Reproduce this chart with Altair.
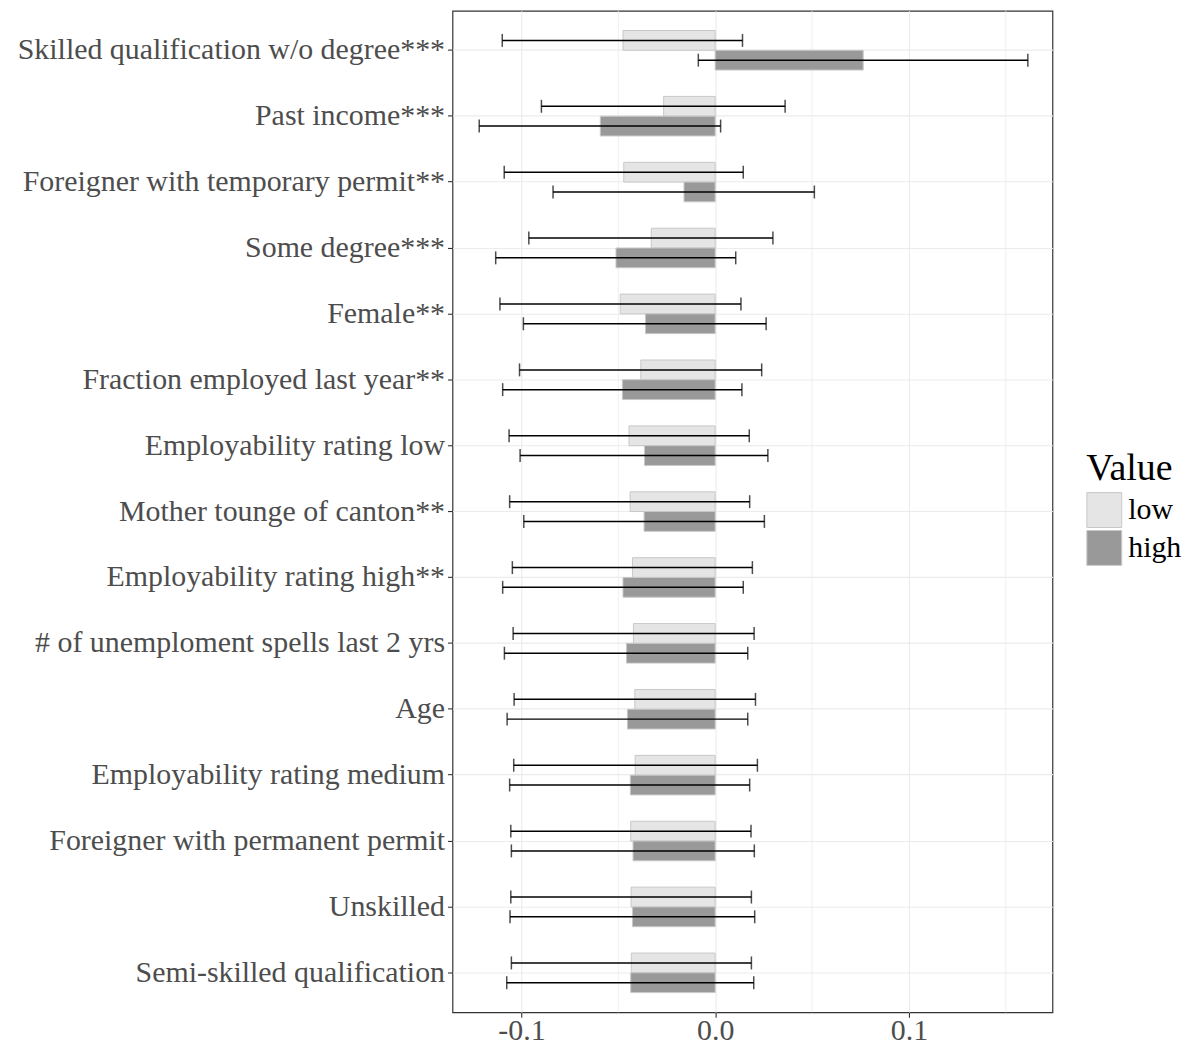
import altair as alt
import pandas as pd

categories = [
    "Skilled qualification w/o degree***",
    "Past income***",
    "Foreigner with temporary permit**",
    "Some degree***",
    "Female**",
    "Fraction employed last year**",
    "Employability rating low",
    "Mother tounge of canton**",
    "Employability rating high**",
    "# of unemploment spells last 2 yrs",
    "Age",
    "Employability rating medium",
    "Foreigner with permanent permit",
    "Unskilled",
    "Semi-skilled qualification",
]
groups = ["low", "high"]

low_value = [-0.0476, -0.0266, -0.0472, -0.0330, -0.0490, -0.0384, -0.0445, -0.0439,
             -0.0427, -0.0422, -0.0415, -0.0413, -0.0436, -0.0434, -0.0433]
low_lower = [-0.1099, -0.0897, -0.1089, -0.0962, -0.1111, -0.1010, -0.1064, -0.1061,
             -0.1047, -0.1043, -0.1038, -0.1040, -0.1055, -0.1055, -0.1052]
low_upper = [0.0141, 0.0361, 0.0145, 0.0298, 0.0133, 0.0240, 0.0176, 0.0178,
             0.0192, 0.0201, 0.0208, 0.0218, 0.0185, 0.0187, 0.0187]
high_value = [0.0764, -0.0593, -0.0161, -0.0512, -0.0360, -0.0479, -0.0365, -0.0367,
              -0.0476, -0.0458, -0.0453, -0.0438, -0.0424, -0.0427, -0.0436]
high_lower = [-0.0087, -0.1218, -0.0837, -0.1133, -0.0990, -0.1097, -0.1007, -0.0988,
              -0.1097, -0.1088, -0.1074, -0.1061, -0.1052, -0.1059, -0.1076]
high_upper = [0.1614, 0.0028, 0.0512, 0.0106, 0.0263, 0.0138, 0.0272, 0.0254,
              0.0145, 0.0168, 0.0168, 0.0178, 0.0202, 0.0204, 0.0199]

x_ticks = [-0.1, 0.0, 0.1]
minor_grid = [-0.05, 0.05, 0.15]
x_domain = [-0.1356, 0.1741]

rows = []
for i, c in enumerate(categories):
    rows.append(dict(category=c, group="low", value=low_value[i], lo=low_lower[i], hi=low_upper[i]))
    rows.append(dict(category=c, group="high", value=high_value[i], lo=high_lower[i], hi=high_upper[i]))
df = pd.DataFrame(rows)
caps = pd.concat([
    df[["category", "group", "lo"]].rename(columns={"lo": "end"}),
    df[["category", "group", "hi"]].rename(columns={"hi": "end"}),
])

FONT = "Liberation Serif"
xscale = alt.Scale(domain=x_domain, nice=False, zero=False)
yscale = alt.Scale(paddingInner=0, paddingOuter=0.1)
yoff_scale = alt.Scale(domain=groups, paddingInner=0, paddingOuter=0.6667)

y_enc = alt.Y(
    "category:N", sort=categories, scale=yscale, title=None,
    axis=alt.Axis(labelFont=FONT, labelFontSize=30, labelColor="#4d4d4d",
                  tickColor="#333333", tickSize=5, tickWidth=1.1, domain=False,
                  grid=True, gridColor="#ebebeb", gridWidth=1.1, labelPadding=3,
                  labelLimit=0, bandPosition=0.5),
)
yoff_enc = alt.YOffset("group:N", sort=groups, scale=yoff_scale)

x_axis = alt.Axis(values=x_ticks, labelFont=FONT, labelFontSize=30, labelColor="#4d4d4d",
                  tickColor="#333333", tickSize=5, tickWidth=1.1, domain=False,
                  grid=True, gridColor="#ebebeb", gridWidth=1.1, labelPadding=-2,
                  labelExpr="datum.value < 0 ? '-' + format(-datum.value, '.1f') : format(datum.value, '.1f')")

minor = alt.Chart(pd.DataFrame({"v": minor_grid})).mark_rule(
    color="#ebebeb", strokeWidth=0.8
).encode(x=alt.X("v:Q", scale=xscale, axis=x_axis, title=None))

bars = alt.Chart(df).mark_bar(stroke="#c8c8c8", strokeWidth=1).encode(
    x=alt.X("value:Q", scale=xscale, axis=x_axis, stack=None, title=None),
    x2=alt.datum(0),
    y=y_enc,
    yOffset=yoff_enc,
    color=alt.Color("group:N", sort=groups,
                    scale=alt.Scale(domain=groups, range=["#e5e5e5", "#999999"]),
                    legend=alt.Legend(title="Value", orient="none", legendX=636, legendY=441,
                                      titleFont=FONT, titleFontSize=38, titleFontWeight="normal",
                                      titleColor="black", labelFont=FONT, labelFontSize=30,
                                      labelColor="black", symbolType="square", symbolSize=1225,
                                      symbolStrokeColor="#c8c8c8", symbolStrokeWidth=1,
                                      symbolOpacity=1, rowPadding=-6, labelOffset=6,
                                      titlePadding=4)),
)

err = alt.Chart(df).mark_rule(color="black", strokeWidth=1.5).encode(
    x=alt.X("lo:Q", scale=xscale, title=None),
    x2="hi:Q",
    y=y_enc,
    yOffset=yoff_enc,
)

cap = alt.Chart(caps).mark_tick(color="black", thickness=1.5, size=13).encode(
    x=alt.X("end:Q", scale=xscale, title=None),
    y=y_enc,
    yOffset=yoff_enc,
)

chart = alt.layer(minor, bars, err, cap).properties(
    width=602, height=1005,
    padding={"left": 8, "top": 0, "right": 5, "bottom": 0},
    view=alt.ViewBackground(stroke="#333333", strokeWidth=1.2, fill="white"),
).configure_view(stroke="#333333", strokeWidth=1.2).configure(background="white")

chart.save("out.html", embed_options={"renderer": "svg", "actions": False})
